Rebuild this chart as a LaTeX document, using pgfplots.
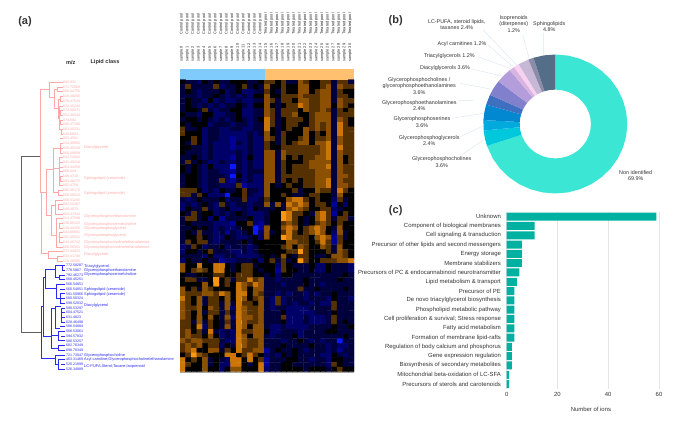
\documentclass[border=0pt]{standalone}
\usepackage{fontspec}
\setmainfont{Liberation Sans}
\usepackage{pgfplots}
\pgfplotsset{compat=1.18}
\definecolor{txt}{HTML}{333333}
\definecolor{lead}{HTML}{DCE7F3}
\definecolor{pinkl}{HTML}{FFA8A8}
\definecolor{bluel}{HTML}{2A2AF0}
\definecolor{barc}{HTML}{00B0A0}
\definecolor{bandb}{HTML}{7FCBFB}
\definecolor{bando}{HTML}{FFC070}
\definecolor{wnon}{HTML}{3BE6D4}
\definecolor{wa}{HTML}{00C8DC}
\definecolor{wb}{HTML}{00AADC}
\definecolor{wc}{HTML}{0288D1}
\definecolor{wd}{HTML}{3F6FC0}
\definecolor{we}{HTML}{8080CC}
\definecolor{wf}{HTML}{B39DDB}
\definecolor{wg}{HTML}{D8B4E2}
\definecolor{wh}{HTML}{F8D0F0}
\definecolor{wi}{HTML}{C8B8D8}
\definecolor{wj}{HTML}{8C8CA8}
\definecolor{wk}{HTML}{546E8A}
\newcommand{\lab}[3]{\node[align=center,text=txt,font=\fontsize{5.4}{6.3}\selectfont] at (axis cs:#1,#2) {#3};}
\newcommand{\pl}[2]{\node[anchor=west,inner sep=0pt,text=pinkl,font=\fontsize{3.9}{4}\selectfont] at (axis cs:84,#1) {#2};}
\newcommand{\bl}[2]{\node[anchor=west,inner sep=0pt,text=bluel,font=\fontsize{3.9}{4}\selectfont] at (axis cs:84,#1) {#2};}
\begin{document}
\begin{tikzpicture}
\path[use as bounding box] (0,0) rectangle (685pt,423pt);

% everything placed in image pixels
\begin{axis}[name=page, at={(0,0)}, anchor=south west, scale only axis, width=685pt, height=423pt,
  xmin=0, xmax=685, ymin=0, ymax=423, y dir=reverse, hide axis, clip=false, unbounded coords=jump]
  % group bar over the heatmap
  \addplot[fill=bandb, draw=none] coordinates {(180,69.5) (265,69.5) (265,80) (180,80)} --cycle;
  \addplot[fill=bando, draw=none] coordinates {(265,69.5) (354,69.5) (354,80) (265,80)} --cycle;

  % dendrogram
  \addplot[color=black!62, line width=0.9pt] coordinates {(40,156) (21.7,156) (21.7,332.7) (41.7,332.7)};
  \addplot[pinkl, line width=0.7pt] coordinates {
    (49.3,89) (40,89) (40,192) (46.7,192) (nan,nan)
    (41.7,192) (41.7,253) (48,253) (nan,nan)
    (63,82.4) (49.3,82.4) (49.3,97) (54,97) (nan,nan)
    (57,89.5) (54,89.5) (54,108) (58,108) (nan,nan)
    (63,87.1) (57,87.1) (57,91.8) (63,91.8) (nan,nan)
    (60,99) (58,99) (58,118) (59.5,118) (nan,nan)
    (63,96.5) (60,96.5) (60,101.2) (63,101.2) (nan,nan)
    (63,105.9) (59.5,105.9) (59.5,129.4) (61,129.4) (nan,nan)
    (63,110.6) (60,110.6) (60,115.3) (63,115.3) (nan,nan)
    (63,120) (60.5,120) (60.5,124.7) (63,124.7) (nan,nan)
    (63,129.4) (61,129.4) (61,134.1) (63,134.1) (nan,nan)
    (63,138.8) (60,138.8) (nan,nan)
    (53,169) (46.7,169) (46.7,215) (51,215) (nan,nan)
    (60,148) (53,148) (53,192) (58,192) (nan,nan)
    (63,190.5) (58,190.5) (58,195.2) (63,195.2) (nan,nan)
    (63,143.5) (60,143.5) (60,152.9) (63,152.9) (nan,nan)
    (63,148.2) (60,148.2) (nan,nan)
    (53,168) (59,168) (nan,nan)
    (63,157.6) (59,157.6) (59,185.8) (63,185.8) (nan,nan)
    (63,162.3) (59,162.3) (nan,nan) (63,167) (59,167) (nan,nan) (63,171.7) (59,171.7) (nan,nan)
    (63,176.4) (60,176.4) (60,181.1) (63,181.1) (nan,nan)
    (55,205) (51,205) (51,235) (56,235) (nan,nan)
    (63,199.9) (55,199.9) (55,214) (63,214) (nan,nan)
    (63,204.6) (58,204.6) (58,209.3) (63,209.3) (nan,nan)
    (63,218.7) (56,218.7) (56,246.9) (63,246.9) (nan,nan)
    (63,223.4) (59,223.4) (59,228.1) (63,228.1) (nan,nan)
    (63,232.8) (59,232.8) (59,242.2) (63,242.2) (nan,nan)
    (63,237.5) (59,237.5) (nan,nan)
    (63,251.6) (48,251.6) (48,258.5) (57,258.5) (nan,nan)
    (63,256.3) (57,256.3) (57,261) (63,261)
  };
  \addplot[bluel, line width=0.85pt] coordinates {
    (55,358.3) (41.7,358.3) (41.7,306.7) (43.3,306.7) (nan,nan)
    (45.7,277) (43.3,277) (43.3,336) (51.7,336) (nan,nan)
    (55,269) (45.7,269) (45.7,288) (56,288) (nan,nan)
    (65,265.7) (55,265.7) (55,277) (59.3,277) (nan,nan)
    (65,270.4) (62,270.4) (62,265.7) (nan,nan)
    (65,275.1) (59.3,275.1) (59.3,279.8) (65,279.8) (nan,nan)
    (65,284.5) (56,284.5) (56,298.6) (65,298.6) (nan,nan)
    (65,293.9) (60,293.9) (60,303.3) (65,303.3) (nan,nan)
    (65,289.2) (60,289.2) (nan,nan)
    (55,308) (51.7,308) (51.7,348) (58.3,348) (nan,nan)
    (61,306) (55,306) (55,328) (60,328) (nan,nan)
    (65,308) (61,308) (61,322.1) (65,322.1) (nan,nan)
    (65,312.7) (61,312.7) (nan,nan) (65,317.4) (61,317.4) (nan,nan)
    (65,326.8) (60,326.8) (nan,nan)
    (51.7,335) (58,335) (nan,nan)
    (65,331.5) (58,331.5) (58,340.9) (65,340.9) (nan,nan)
    (65,336.2) (61,336.2) (nan,nan)
    (65,345.6) (58.3,345.6) (58.3,350.3) (65,350.3) (nan,nan)
    (65,355) (55,355) (55,364) (58.3,364) (nan,nan)
    (65,359.7) (58.3,359.7) (58.3,369.1) (65,369.1) (nan,nan)
    (65,364.4) (61,364.4)
  };

  % leader lines of the donut
  \addplot[lead, line width=0.5pt] coordinates {
    (543.7,33) (543.7,54) (nan,nan) (522.7,35) (529.3,59) (nan,nan)
    (483.3,30) (516.7,65) (nan,nan) (488.3,45) (512.7,66.7) (nan,nan)
    (477.7,56.7) (510,68.3) (nan,nan) (471.7,69) (501.7,76) (nan,nan)
    (460,83.3) (491.7,89.3) (nan,nan) (458.3,100.3) (473.3,100.3) (nan,nan)
    (451.7,118.3) (483.3,113.3) (nan,nan) (460,136.7) (483.3,126) (nan,nan)
    (461.7,155) (483.3,140)
  };

  \node[font=\fontsize{11}{12}\bfseries, text=txt] at (axis cs:25,21.7) {(a)};
  \node[font=\fontsize{11}{12}\bfseries, text=txt] at (axis cs:395.7,20.7) {(b)};
  \node[font=\fontsize{11}{12}\bfseries, text=txt] at (axis cs:395.7,210.7) {(c)};
  \node[font=\fontsize{5.6}{6}\bfseries, text=txt] at (axis cs:70.7,62.7) {m/z};
  \node[font=\fontsize{5.6}{6}\bfseries, text=txt] at (axis cs:105,62.3) {Lipid class};

  % lipid classes beside the dendrogram
  \pl{147}{Diacylglycerol}
  \pl{178}{Sphingolipid (ceramide)}
  \pl{193.3}{Sphingolipid (ceramide)}
  \pl{216.7}{Glycerophosphoethanolamine}
  \pl{224}{Glycerophosphoserine/choline}
  \pl{228.3}{Glycerophosphoglycerol}
  \pl{235.7}{Glycerophosphoglycerol}
  \pl{242.7}{Glycerophosphocholine/ethanolamine}
  \pl{247.7}{Glycerophosphocholine/ethanolamine}
  \pl{254.7}{Diacylglycerol}
  \bl{266.7}{Triacylglycerol}
  \bl{270.7}{Glycerophosphoethanolamine}
  \bl{274.7}{Glycerophosphoserine/choline}
  \bl{289.7}{Sphingolipid (ceramide)}
  \bl{294.3}{Sphingolipid (ceramide)}
  \bl{305.7}{Diacylglycerol}
  \bl{355}{Glycerophosphocholine}
  \bl{359.7}{Acyl carnitine;Glycerophosphocholine/ethanolamine}
  \bl{366.7}{LC-PUFA;Sterol;Taxane;Isoprenoid}

  % donut labels
  \lab{549.3}{26.8}{Sphingolipids\\4.8\%}
  \lab{513.7}{24}{Isoprenoids\\(diterpenes)\\1.2\%}
  \lab{456.7}{24.6}{LC-PUFA, steroid lipids,\\taxanes 2.4\%}
  \lab{462}{44}{Acyl carnitines 1.2\%}
  \lab{449.3}{56.3}{Triacylglycerols 1.2\%}
  \lab{445}{68.3}{Diacylglycerols 3.6\%}
  \lab{419.3}{86}{Glycerophosphocholines /\\glycerophosphoethanolamines\\3.6\%}
  \lab{419.3}{105.8}{Glycerophosphoethanolamines\\2.4\%}
  \lab{422}{122.1}{Glycerophosphoserines\\3.6\%}
  \lab{429.3}{140.5}{Glycerophosphoglycerols\\2.4\%}
  \lab{441.7}{162.1}{Glycerophosphocholines\\3.6\%}
  \lab{635.7}{175.3}{Non identified\\69.9\%}

  % thin frame left of and under the heatmap
  \addplot[black!35, line width=0.4pt] coordinates {(180,80) (180,371.9) (354,371.9)};
\end{axis}

% m/z values of the ions, one per heatmap row
\foreach \i/\t in {0/666.931,1/571.72669,2/580.44755,3/510.49295,4/578.47544,5/532.45244,6/574.80871,7/552.46544,8/574.604,
  9/595.47108,10/563.40231,11/549.8601,12/563.4581,13/534.49502,14/556.45218,15/560.49859,16/534.72692,17/541.45218,
  18/564.44456,19/568.444,20/546.4718,21/583.48275,22/582.4759,23/586.46172,24/550.48523,25/566.51245,26/582.50387,
  27/548.4875,28/564.47314,29/514.47598,30/536.86123,31/518.44155,32/543.86901,33/552.40551,34/544.46712,35/568.50351,
  36/572.44023,37/534.41748,38/528.46805}
  \node[anchor=west,inner sep=0pt,text=pinkl,font=\fontsize{3.6}{4}\selectfont] at (63pt,{(340.65-\i*4.7)*1pt}) {\t};
\foreach \i/\t in {39/772.58287,40/778.5887,41/792.46273,42/568.45251,43/566.54851,44/560.54851,45/591.50966,46/580.50324,
  47/599.52032,48/590.53297,49/604.47521,50/631.4823,51/628.46498,52/586.54884,53/568.53061,54/594.57832,55/580.53257,
  56/682.76349,57/698.76349,58/721.73047,59/463.31469,60/520.21899,61/526.34889}
  \node[anchor=west,inner sep=0pt,text=bluel,font=\fontsize{3.6}{4}\selectfont] at (66pt,{(340.65-\i*4.7)*1pt}) {\t};

% sample names over the heatmap
\foreach \i in {0,...,14} {
  \node[rotate=90,anchor=west,inner sep=0pt,text=black!85,font=\fontsize{3.9}{4}\selectfont] at ({(182.8+\i*5.613-1.1)*1pt},{388pt}) {Control pool};
  \node[rotate=90,anchor=west,inner sep=0pt,text=black!85,font=\fontsize{3.9}{4}\selectfont] at ({(182.8+\i*5.613-1.1)*1pt},{361pt}) {sample \i};
}
\foreach \i in {15,...,30} {
  \node[rotate=90,anchor=west,inner sep=0pt,text=black!85,font=\fontsize{3.9}{4}\selectfont] at ({(182.8+\i*5.613-1.1)*1pt},{388pt}) {Treated pool};
  \node[rotate=90,anchor=west,inner sep=0pt,text=black!85,font=\fontsize{3.9}{4}\selectfont] at ({(182.8+\i*5.613-1.1)*1pt},{361pt}) {sample \i};
}

% heatmap, levels 0 (blue) - 4 (black) - 8 (orange), 31 per row
\begin{axis}[at={(180pt,51.3pt)}, anchor=south west, scale only axis, width=174pt, height=292pt,
  xmin=-0.5, xmax=30.5, ymin=-0.5, ymax=61.5, y dir=reverse, hide axis,
  colormap={bo}{rgb255=(10,25,255) rgb255=(0,0,150) rgb255=(0,0,105) rgb255=(0,0,60) rgb255=(0,0,0)
    rgb255=(85,48,0) rgb255=(140,80,3) rgb255=(205,118,8) rgb255=(250,150,15)},
  point meta min=0, point meta max=8]
  \addplot[matrix plot*, mesh/cols=31, point meta=\thisrowno{0}]
  table[header=false, row sep=crcr, x expr={mod(\coordindex,31)}, y expr={floor((\coordindex+0.5)/31)}] {
4\\3\\3\\2\\4\\3\\4\\3\\3\\4\\4\\4\\3\\3\\4\\5\\5\\4\\5\\3\\3\\6\\5\\4\\4\\5\\5\\3\\5\\5\\3\\
3\\5\\3\\3\\3\\3\\5\\2\\3\\3\\4\\5\\3\\4\\3\\6\\4\\4\\5\\4\\4\\6\\6\\4\\4\\5\\6\\3\\6\\5\\5\\
3\\4\\3\\2\\3\\3\\3\\4\\2\\3\\4\\2\\2\\3\\3\\5\\4\\3\\5\\4\\4\\6\\6\\4\\5\\6\\6\\3\\5\\4\\4\\
3\\3\\3\\2\\3\\3\\4\\3\\2\\3\\2\\3\\2\\4\\4\\6\\4\\4\\5\\5\\5\\6\\5\\5\\5\\6\\6\\3\\5\\5\\4\\
3\\4\\3\\3\\2\\4\\2\\3\\2\\2\\3\\2\\2\\3\\3\\6\\5\\3\\5\\5\\4\\6\\6\\5\\5\\6\\6\\3\\6\\5\\5\\
3\\4\\3\\2\\3\\2\\3\\2\\3\\3\\4\\3\\2\\4\\4\\6\\4\\3\\4\\5\\5\\7\\6\\5\\5\\6\\6\\4\\6\\5\\4\\
3\\4\\4\\3\\5\\3\\2\\3\\3\\4\\4\\2\\2\\3\\3\\6\\5\\3\\5\\5\\5\\4\\6\\5\\5\\6\\5\\3\\5\\4\\5\\
4\\3\\3\\2\\4\\4\\2\\2\\3\\3\\4\\2\\2\\3\\3\\6\\5\\3\\5\\5\\6\\4\\4\\5\\6\\6\\6\\3\\5\\5\\5\\
3\\4\\4\\3\\4\\3\\2\\3\\2\\3\\4\\3\\2\\3\\4\\7\\5\\3\\4\\5\\5\\5\\4\\5\\6\\6\\6\\3\\6\\5\\4\\
4\\3\\4\\4\\4\\2\\3\\3\\3\\2\\3\\3\\2\\3\\3\\7\\5\\3\\4\\5\\5\\4\\4\\5\\6\\5\\6\\3\\7\\5\\4\\
5\\3\\3\\4\\2\\3\\3\\2\\2\\3\\3\\2\\2\\3\\3\\7\\4\\3\\4\\5\\4\\4\\6\\5\\6\\5\\6\\3\\7\\5\\5\\
5\\4\\4\\4\\2\\3\\3\\2\\2\\2\\2\\2\\3\\2\\3\\6\\4\\3\\5\\4\\4\\4\\6\\4\\5\\4\\6\\3\\7\\5\\5\\
4\\4\\5\\4\\2\\3\\3\\2\\2\\1\\2\\2\\3\\2\\2\\6\\5\\3\\5\\4\\4\\5\\6\\4\\5\\5\\6\\3\\6\\5\\5\\
4\\3\\5\\4\\2\\3\\2\\2\\2\\1\\3\\2\\3\\2\\2\\5\\4\\3\\5\\4\\5\\6\\6\\4\\6\\6\\7\\3\\6\\5\\5\\
4\\4\\3\\3\\2\\3\\2\\2\\2\\1\\2\\2\\3\\2\\2\\5\\4\\4\\5\\5\\5\\5\\5\\5\\5\\6\\7\\3\\7\\5\\5\\
4\\3\\3\\3\\2\\3\\2\\2\\2\\2\\3\\2\\3\\2\\2\\6\\6\\3\\6\\5\\5\\5\\5\\5\\5\\6\\7\\3\\6\\5\\5\\
3\\3\\4\\3\\2\\3\\2\\2\\2\\1\\3\\2\\4\\2\\2\\6\\6\\3\\6\\4\\5\\4\\5\\5\\6\\6\\7\\3\\6\\4\\5\\
3\\5\\3\\4\\3\\2\\2\\3\\2\\2\\3\\2\\3\\2\\2\\6\\6\\3\\5\\4\\4\\4\\5\\6\\6\\6\\6\\3\\6\\4\\5\\
4\\3\\4\\3\\2\\4\\2\\2\\2\\0\\3\\2\\3\\2\\2\\6\\6\\3\\5\\4\\5\\5\\5\\6\\6\\6\\7\\3\\6\\5\\5\\
4\\3\\4\\3\\2\\3\\3\\2\\2\\1\\3\\2\\3\\3\\3\\6\\6\\3\\5\\4\\5\\5\\5\\5\\6\\6\\6\\3\\6\\5\\5\\
3\\4\\4\\3\\2\\3\\3\\3\\2\\0\\4\\2\\3\\2\\2\\6\\6\\3\\5\\5\\5\\5\\5\\5\\6\\6\\6\\3\\6\\6\\5\\
3\\4\\4\\3\\2\\3\\3\\5\\2\\1\\3\\2\\3\\2\\2\\6\\6\\3\\5\\4\\5\\4\\5\\5\\6\\6\\7\\3\\6\\5\\5\\
3\\4\\4\\3\\2\\3\\3\\2\\2\\2\\5\\1\\2\\2\\2\\6\\4\\3\\4\\5\\4\\4\\5\\5\\6\\6\\7\\3\\6\\6\\5\\
5\\5\\5\\4\\2\\3\\2\\4\\3\\3\\4\\5\\3\\3\\2\\6\\4\\4\\4\\4\\5\\3\\4\\4\\6\\5\\5\\3\\7\\5\\4\\
5\\5\\3\\5\\4\\2\\2\\2\\0\\4\\4\\5\\3\\2\\2\\6\\4\\4\\5\\4\\3\\3\\4\\5\\5\\4\\4\\3\\6\\4\\4\\
3\\2\\3\\4\\3\\3\\3\\4\\2\\3\\3\\5\\2\\2\\3\\5\\4\\4\\4\\6\\7\\7\\5\\4\\5\\4\\4\\2\\5\\3\\4\\
2\\3\\2\\3\\4\\3\\2\\5\\3\\2\\3\\3\\2\\3\\3\\6\\3\\6\\3\\7\\6\\7\\6\\4\\5\\5\\4\\1\\4\\2\\4\\
2\\4\\3\\3\\5\\3\\2\\3\\4\\2\\2\\3\\2\\4\\3\\3\\3\\4\\3\\6\\7\\6\\5\\4\\4\\5\\5\\2\\3\\4\\4\\
4\\3\\5\\3\\4\\4\\2\\3\\2\\3\\4\\3\\2\\2\\2\\3\\4\\4\\8\\7\\5\\5\\4\\3\\6\\7\\5\\1\\4\\5\\4\\
3\\5\\5\\3\\4\\2\\4\\1\\3\\3\\3\\3\\4\\2\\2\\3\\4\\4\\8\\7\\5\\4\\3\\4\\6\\7\\5\\3\\5\\5\\3\\
3\\4\\3\\3\\3\\3\\2\\2\\2\\1\\4\\4\\5\\2\\1\\3\\4\\4\\5\\6\\5\\4\\3\\4\\5\\6\\5\\4\\5\\4\\4\\
3\\3\\4\\3\\4\\3\\2\\3\\2\\2\\3\\4\\4\\0\\1\\6\\4\\4\\6\\7\\6\\4\\5\\6\\7\\6\\4\\3\\6\\4\\4\\
3\\4\\3\\5\\3\\3\\2\\3\\1\\3\\2\\3\\4\\0\\2\\6\\3\\4\\5\\7\\5\\4\\5\\6\\7\\6\\4\\2\\6\\3\\4\\
3\\4\\4\\5\\4\\3\\2\\2\\4\\3\\2\\2\\3\\4\\2\\6\\4\\4\\8\\7\\5\\5\\5\\4\\6\\7\\6\\1\\5\\3\\4\\
3\\5\\4\\5\\5\\3\\2\\3\\3\\3\\3\\4\\3\\4\\4\\4\\4\\4\\4\\6\\6\\5\\5\\4\\5\\7\\5\\1\\5\\4\\4\\
2\\3\\5\\4\\2\\3\\3\\4\\2\\3\\3\\3\\2\\3\\4\\4\\4\\4\\5\\6\\4\\6\\5\\4\\4\\6\\5\\3\\6\\4\\4\\
2\\4\\4\\3\\4\\5\\3\\3\\3\\2\\2\\3\\2\\3\\4\\4\\4\\4\\4\\5\\5\\8\\5\\4\\4\\4\\5\\3\\6\\5\\4\\
3\\3\\3\\3\\2\\4\\2\\2\\3\\3\\2\\2\\2\\2\\3\\4\\3\\4\\6\\4\\3\\5\\5\\4\\3\\3\\4\\6\\6\\5\\4\\
2\\4\\3\\3\\4\\3\\3\\1\\2\\2\\3\\3\\3\\4\\2\\4\\5\\3\\5\\3\\4\\8\\5\\4\\4\\5\\5\\5\\6\\6\\7\\
6\\4\\4\\7\\4\\4\\7\\7\\4\\3\\4\\5\\5\\3\\4\\4\\4\\2\\5\\4\\3\\3\\3\\4\\2\\2\\4\\3\\3\\3\\2\\
6\\4\\5\\6\\5\\4\\7\\7\\4\\3\\4\\5\\5\\4\\3\\4\\4\\1\\5\\4\\4\\3\\3\\4\\2\\2\\4\\3\\3\\3\\2\\
4\\3\\3\\4\\4\\4\\5\\5\\4\\4\\5\\5\\5\\4\\4\\3\\4\\2\\4\\4\\3\\3\\3\\3\\3\\3\\3\\3\\3\\4\\3\\
4\\5\\5\\3\\3\\4\\8\\4\\5\\3\\5\\5\\7\\5\\6\\3\\3\\2\\3\\3\\3\\3\\4\\3\\3\\3\\3\\3\\4\\3\\3\\
4\\4\\4\\4\\6\\4\\8\\4\\5\\4\\7\\6\\5\\7\\6\\3\\3\\3\\2\\3\\3\\3\\4\\3\\3\\2\\3\\3\\3\\3\\3\\
6\\4\\5\\3\\6\\5\\4\\4\\4\\4\\7\\6\\4\\6\\6\\3\\3\\3\\3\\3\\3\\5\\3\\3\\4\\3\\3\\3\\3\\4\\3\\
6\\5\\5\\5\\6\\6\\5\\7\\6\\4\\7\\7\\4\\6\\5\\3\\3\\2\\3\\2\\3\\3\\2\\3\\2\\3\\3\\4\\3\\3\\3\\
7\\5\\4\\6\\3\\5\\5\\4\\6\\4\\7\\6\\4\\5\\6\\3\\2\\5\\2\\3\\3\\3\\2\\3\\3\\3\\2\\4\\3\\3\\2\\
6\\5\\4\\6\\3\\5\\5\\3\\6\\3\\7\\5\\5\\4\\6\\3\\2\\5\\2\\3\\2\\3\\3\\2\\3\\2\\2\\5\\3\\3\\3\\
6\\5\\5\\6\\4\\6\\5\\3\\6\\2\\7\\6\\5\\5\\6\\3\\2\\3\\3\\2\\2\\2\\2\\3\\3\\3\\3\\5\\3\\3\\3\\
6\\5\\4\\6\\3\\5\\5\\3\\5\\3\\7\\6\\5\\5\\6\\3\\3\\3\\4\\2\\2\\2\\2\\2\\3\\3\\3\\4\\3\\3\\3\\
6\\5\\4\\6\\4\\6\\4\\3\\6\\2\\7\\6\\6\\5\\6\\3\\3\\3\\5\\2\\2\\2\\3\\2\\2\\2\\3\\5\\3\\3\\3\\
5\\5\\3\\6\\3\\5\\4\\3\\5\\3\\7\\6\\5\\5\\6\\3\\3\\3\\4\\2\\2\\2\\3\\2\\2\\2\\3\\5\\3\\4\\3\\
5\\5\\4\\7\\2\\5\\4\\3\\6\\3\\7\\6\\4\\6\\6\\3\\2\\2\\3\\2\\2\\2\\2\\3\\3\\3\\3\\4\\3\\3\\4\\
5\\6\\4\\5\\3\\7\\3\\2\\3\\2\\7\\5\\5\\6\\6\\4\\2\\2\\3\\3\\3\\2\\3\\3\\3\\3\\4\\4\\3\\3\\3\\
5\\6\\5\\5\\4\\6\\4\\2\\3\\2\\7\\6\\4\\6\\6\\3\\2\\3\\3\\3\\4\\2\\3\\3\\3\\3\\3\\3\\3\\4\\3\\
6\\5\\6\\6\\5\\5\\5\\3\\2\\2\\7\\6\\5\\5\\6\\3\\3\\3\\2\\3\\3\\4\\3\\2\\3\\2\\3\\3\\0\\3\\3\\
5\\6\\5\\6\\4\\5\\5\\2\\4\\3\\7\\6\\5\\5\\6\\3\\3\\3\\4\\3\\3\\3\\3\\4\\3\\3\\2\\3\\2\\2\\3\\
5\\6\\7\\4\\4\\6\\6\\3\\5\\4\\7\\5\\5\\6\\6\\1\\3\\4\\3\\3\\4\\3\\2\\3\\3\\3\\2\\3\\1\\3\\3\\
4\\5\\8\\6\\5\\4\\4\\4\\7\\7\\4\\5\\7\\5\\4\\2\\3\\2\\4\\3\\4\\3\\3\\3\\3\\2\\2\\4\\3\\2\\3\\
7\\4\\5\\4\\6\\3\\4\\3\\2\\7\\7\\4\\7\\4\\5\\1\\3\\3\\3\\4\\4\\3\\3\\2\\3\\3\\2\\4\\4\\3\\3\\
7\\5\\4\\4\\6\\3\\4\\2\\2\\7\\7\\4\\3\\4\\7\\1\\3\\3\\4\\4\\3\\3\\3\\3\\3\\3\\2\\5\\4\\3\\3\\
7\\4\\4\\4\\6\\4\\4\\2\\4\\6\\6\\4\\4\\4\\7\\2\\3\\3\\4\\4\\4\\4\\3\\4\\4\\4\\3\\4\\5\\4\\4\\
  };
\end{axis}

% donut: (angle, radius) outlines, clockwise from the top
\begin{axis}[at={(483.3pt,229.5pt)}, anchor=south west, scale only axis, width=144pt, height=139pt,
  xmin=-1, xmax=1, ymin=-1, ymax=1, hide axis]
  \addplot[fill=wnon, draw=none, data cs=polar] coordinates {
    (90,1) (80,1) (70,1) (60,1) (50,1) (40,1) (30,1) (20,1) (10,1) (0,1) (-10,1) (-20,1) (-30,1) (-40,1) (-50,1)
    (-60,1) (-70,1) (-80,1) (-90,1) (-100,1) (-110,1) (-120,1) (-130,1) (-140,1) (-150,1) (-161.64,1)
    (-161.64,0.495) (-150,0.495) (-140,0.495) (-130,0.495) (-120,0.495) (-110,0.495) (-100,0.495) (-90,0.495)
    (-80,0.495) (-70,0.495) (-60,0.495) (-50,0.495) (-40,0.495) (-30,0.495) (-20,0.495) (-10,0.495) (0,0.495)
    (10,0.495) (20,0.495) (30,0.495) (40,0.495) (50,0.495) (60,0.495) (70,0.495) (80,0.495) (90,0.495)} --cycle;
  \addplot[fill=wa, draw=none, data cs=polar] coordinates {(-161.64,1) (-168,1) (-174.6,1) (-174.6,0.495) (-168,0.495) (-161.64,0.495)} --cycle;
  \addplot[fill=wb, draw=none, data cs=polar] coordinates {(-174.6,1) (-183.24,1) (-183.24,0.495) (-174.6,0.495)} --cycle;
  \addplot[fill=wc, draw=none, data cs=polar] coordinates {(-183.24,1) (-190,1) (-196.2,1) (-196.2,0.495) (-190,0.495) (-183.24,0.495)} --cycle;
  \addplot[fill=wd, draw=none, data cs=polar] coordinates {(-196.2,1) (-204.84,1) (-204.84,0.495) (-196.2,0.495)} --cycle;
  \addplot[fill=we, draw=none, data cs=polar] coordinates {(-204.84,1) (-211,1) (-217.8,1) (-217.8,0.495) (-211,0.495) (-204.84,0.495)} --cycle;
  \addplot[fill=wf, draw=none, data cs=polar] coordinates {(-217.8,1) (-224,1) (-230.76,1) (-230.76,0.495) (-224,0.495) (-217.8,0.495)} --cycle;
  \addplot[fill=wg, draw=none, data cs=polar] coordinates {(-230.76,1) (-235.08,1) (-235.08,0.495) (-230.76,0.495)} --cycle;
  \addplot[fill=wh, draw=none, data cs=polar] coordinates {(-235.08,1) (-239.4,1) (-239.4,0.495) (-235.08,0.495)} --cycle;
  \addplot[fill=wi, draw=none, data cs=polar] coordinates {(-239.4,1) (-248.04,1) (-248.04,0.495) (-239.4,0.495)} --cycle;
  \addplot[fill=wj, draw=none, data cs=polar] coordinates {(-248.04,1) (-252.36,1) (-252.36,0.495) (-248.04,0.495)} --cycle;
  \addplot[fill=wk, draw=none, data cs=polar] coordinates {(-252.36,1) (-261,1) (-270,1) (-270,0.495) (-261,0.495) (-252.36,0.495)} --cycle;
\end{axis}

% functions of the ions
\begin{axis}[at={(506.7pt,34.3pt)}, anchor=south west, scale only axis, width=152.3pt, height=176.7pt,
  xbar, bar width=8pt, xmin=0, xmax=60, ymin=-0.5, ymax=18.5, y dir=reverse,
  axis line style={draw=none}, tick style={draw=none}, xmajorgrids, grid style={black!10, line width=0.6pt},
  xtick={0,20,40,60}, ytick={0,1,...,18},
  yticklabels={Unknown, Component of biological membranes, Cell signaling \& transduction,
    Precursor of other lipids and second messengers, Energy storage, Membrane stabilizers,
    Precursors of PC \& endocannabinoid neurotransmitter, Lipid metabolism \& transport, Precursor of PE,
    De novo triacylglycerol biosynthesis, Phospholipid metabolic pathway,
    Cell proliferation \& survival; Stress response, Fatty acid metabolism, Formation of membrane lipid-rafts,
    Regulation of body calcium and phosphorus, Gene expression regulation, Biosynthesis of secondary metabolites,
    Mitochondrial beta-oxidation of LC-SFA, Precursors of sterols and carotenoids},
  tick label style={font=\fontsize{5.95}{7}\selectfont, text=txt, /pgf/number format/assume math mode=true},
  y tick label style={xshift=2pt},
  xlabel={Number of ions},
  every axis x label/.style={at={(axis description cs:0.553,0)}, anchor=north, yshift=-14.5pt, font=\fontsize{5.95}{7}\selectfont, text=txt}]
  \addplot[fill=barc, draw=none] coordinates {
    (59,0) (11,1) (11,2) (6,3) (6,4) (6,5) (5,6) (4,7) (3,8) (3,9)
    (3,10) (3,11) (3,12) (3,13) (2,14) (2,15) (2,16) (1,17) (1,18)};
\end{axis}
\end{tikzpicture}
\end{document}
